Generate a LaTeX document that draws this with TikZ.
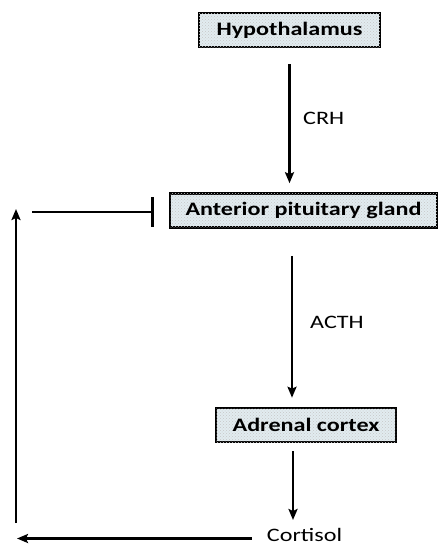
\documentclass[tikz,border=0pt]{standalone}
\usepackage{fontspec}
\setmainfont{Carlito}[FakeStretch=1.27]
\usetikzlibrary{arrows.meta,patterns,calc}
\definecolor{boxfill}{RGB}{226,236,240}
\begin{document}
\begin{tikzpicture}[x=1pt,y=-1pt,
  organ/.style={draw=black,line width=2.6pt,fill=boxfill,
    postaction={pattern=crosshatch dots,pattern color=black!22},
    minimum height=34pt,inner sep=0pt,font=\fontsize{19}{22}\selectfont\bfseries},
  lbl/.style={font=\fontsize{19}{22}\selectfont,inner sep=0pt},
  arr/.style={line width=2.8pt,-{Stealth[length=11pt,width=9pt,inset=2pt]}},
  inhib/.style={line width=2.8pt,-{Bar[width=30pt,line width=2.8pt]}}]
\useasboundingbox (0,0) rectangle (440,546);
\node[organ,minimum width=181pt] (hyp) at (289.5,30) {Hypothalamus};
\node[organ,minimum width=267pt] (ap) at (303.5,210.5) {Anterior pituitary gland};
\node[organ,minimum width=180pt] (ad) at (306,425) {Adrenal cortex};
\node[lbl,anchor=base] (cort) at (304.5,541.5) {Cortisol};
\node[lbl,anchor=west] (crh) at (303,118) {CRH};
\node[lbl,anchor=west] (acth) at (310,322) {ACTH};
\coordinate (lb) at (16,523);
\coordinate (lt) at (16,209);
\coordinate (le) at (17,538.5);
\coordinate (inh) at (32,212);
\draw[arr] ([yshift=-16pt]hyp.south) -- ([yshift=9pt]hyp.south |- ap.north);
\draw[arr] ([xshift=-11.5pt,yshift=-27pt]ap.south) -- ([xshift=-11.5pt,yshift=9pt]ap.south |- ad.north);
\draw[arr] ([xshift=-13pt,yshift=-8pt]ad.south) -- ([xshift=-13pt,yshift=-520pt]ad.south |- 0,0);
\draw[arr] ([xshift=-15pt]cort.west |- le) -- (le);
\draw[arr] (lb) -- (lt);
\draw[inhib] (inh) -- ([xshift=-15pt]inh -| ap.west);
\end{tikzpicture}
\end{document}
